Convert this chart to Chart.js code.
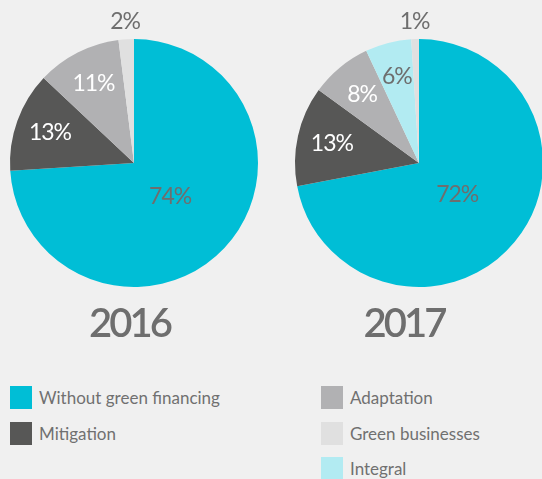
<!DOCTYPE html>
<html>
<head>
<meta charset="utf-8">
<script src="https://cdn.jsdelivr.net/npm/chart.js@4/dist/chart.umd.min.js"></script>
<style>
  html, body { margin: 0; padding: 0; background: #f0f0f0; }
  #wrap { position: relative; width: 542px; height: 479px; overflow: hidden; background: #f0f0f0; font-family: Lato, sans-serif; }
  canvas { position: absolute; top: 0; }
  #pie2016 { left: 0; }
  #pie2017 { left: 285px; }
  .year { position: absolute; top: 300px; width: 140px; text-align: center; font-size: 40px; font-weight: 600; color: #6e6e6e; letter-spacing: -3px; line-height: 44px; }
  .legend-item { position: absolute; height: 23px; display: flex; align-items: center; font-size: 17px; color: #707070; white-space: nowrap; }
  .legend-item span.box { display: inline-block; width: 22px; height: 23px; margin-right: 7px; }
</style>
</head>
<body>
<div id="wrap">
  <canvas id="pie2016" width="268" height="300"></canvas>
  <canvas id="pie2017" width="268" height="300"></canvas>
  <div class="year" id="year0"></div>
  <div class="year" id="year1"></div>
  <div id="legend"></div>
</div>
<script>
// data
var years = ['2016', '2017'];
var categories2016 = ['Without green financing', 'Mitigation', 'Adaptation', 'Green businesses'];
var values2016 = [74, 13, 11, 2];
var categories2017 = ['Without green financing', 'Mitigation', 'Adaptation', 'Integral', 'Green businesses'];
var values2017 = [72, 13, 8, 6, 1];
var legendLeft = ['Without green financing', 'Mitigation'];
var legendRight = ['Adaptation', 'Green businesses', 'Integral'];

// styles
var sliceColors = {
    'Without green financing': '#00bed6',
    'Mitigation': '#575756',
    'Adaptation': '#b1b1b3',
    'Green businesses': '#e0e0e0',
    'Integral': '#b2ebf2'
};
var labelColors = {
    'Without green financing': '#6e6e6e',
    'Mitigation': '#ffffff',
    'Adaptation': '#ffffff',
    'Green businesses': '#6e6e6e',
    'Integral': '#6e6e6e'
};

var sliceLabels = {
    id: 'sliceLabels',
    afterDatasetsDraw: function(chart) {
        var ctx = chart.ctx;
        var meta = chart.getDatasetMeta(0);
        var data = chart.data.datasets[0].data;
        ctx.save();
        ctx.font = '400 23px Lato';
        ctx.letterSpacing = '-1px';
        ctx.textAlign = 'center';
        ctx.textBaseline = 'middle';
        meta.data.forEach(function(arc, i) {
            var v = data[i];
            var p = arc.getProps(['x', 'y', 'startAngle', 'endAngle', 'outerRadius'], true);
            var mid = (p.startAngle + p.endAngle) / 2;
            var f = v > 50 ? 0.4 : (v < 3 ? 1.14 : 0.72);
            var r = p.outerRadius * f;
            ctx.fillStyle = labelColors[chart.data.labels[i]];
            ctx.fillText(v + '%', p.x + Math.cos(mid) * r, p.y + Math.sin(mid) * r);
        });
        ctx.restore();
    }
};

function makePie(id, labels, values) {
    return new Chart(document.getElementById(id).getContext('2d'), {
        type: 'pie',
        data: {
            labels: labels,
            datasets: [{
                data: values,
                backgroundColor: labels.map(function(l) { return sliceColors[l]; }),
                borderWidth: 0
            }]
        },
        options: {
            responsive: false,
            animation: false,
            layout: { padding: { left: 10, right: 10, top: 39, bottom: 13 } },
            plugins: {
                legend: { display: false },
                tooltip: { enabled: false }
            }
        },
        plugins: [sliceLabels]
    });
}

makePie('pie2016', categories2016, values2016);
makePie('pie2017', categories2017, values2017);

var y0 = document.getElementById('year0');
y0.textContent = years[0];
y0.style.left = (129.5 - 70) + 'px';
var y1 = document.getElementById('year1');
y1.textContent = years[1];
y1.style.left = (404 - 70) + 'px';

var legend = document.getElementById('legend');
var rowTops = [386, 422, 457];
function addLegend(list, left) {
    list.forEach(function(name, i) {
        var d = document.createElement('div');
        d.className = 'legend-item';
        d.style.left = left + 'px';
        d.style.top = rowTops[i] + 'px';
        d.innerHTML = '<span class="box" style="background:' + sliceColors[name] + '"></span>' + name;
        legend.appendChild(d);
    });
}
addLegend(legendLeft, 10);
addLegend(legendRight, 321);
</script>
</body>
</html>
